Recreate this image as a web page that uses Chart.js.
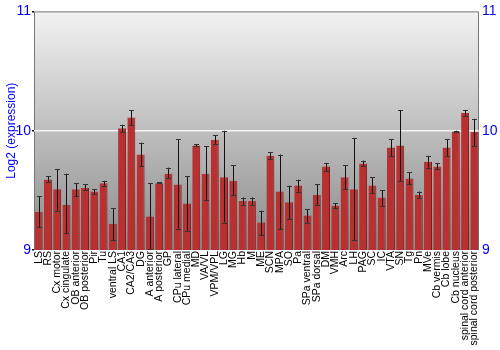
<!DOCTYPE html>
<html>
<head>
<meta charset="utf-8">
<script src="https://cdn.jsdelivr.net/npm/chart.js@4"></script>
<style>
html,body{margin:0;padding:0;background:#fff}
#wrap{width:500px;height:350px}
</style>
</head>
<body>
<div id="wrap"><canvas id="grafico"></canvas></div>
<script>
let regioes = ["LS","RS","Cx motor","Cx cingulate","OB anterior","OB posterior","Pir","Tu","ventral LS","CA1","CA2/CA3","DG","A anterior","A posterior","GP","CPu lateral","CPu medial","MD","VA/VL","VPM/VPL","LG","MG","Hb","M","ME","SCN","MPA","SO","Pa","SPa ventral","SPa dorsal","DM","VMH","Arc","LH","PAG","SC","IC","VTA","SN","Tg","Pn","MVe","Cb vermis","Cb lobe","Cb nucleus","spinal cord anterior","spinal cord posterior"]

let expressao = [9.32,9.59,9.51,9.38,9.51,9.52,9.49,9.56,9.22,10.02,10.11,9.80,9.28,9.56,9.64,9.55,9.39,9.875,9.64,9.925,9.61,9.58,9.41,9.41,9.23,9.79,9.49,9.40,9.54,9.29,9.46,9.70,9.37,9.61,9.51,9.725,9.54,9.44,9.86,9.875,9.60,9.46,9.74,9.70,9.86,9.994,10.15,9.99]

let erroAlto = [9.45,9.62,9.68,9.64,9.56,9.55,9.51,9.58,9.35,10.05,10.17,9.90,9.56,9.57,9.69,9.93,9.62,9.886,9.87,9.96,10.0,9.71,9.44,9.44,9.33,9.82,9.80,9.54,9.59,9.34,9.55,9.73,9.39,9.71,9.94,9.75,9.61,9.50,9.93,10.17,9.65,9.49,9.79,9.73,9.93,10.0,10.175,10.10]

let erroBaixo = [9.19,9.57,9.33,9.14,9.45,9.50,9.47,9.54,9.08,9.99,10.05,9.70,9.01,9.56,9.60,9.18,9.16,9.87,9.42,9.89,9.23,9.46,9.38,9.38,9.125,9.76,9.175,9.26,9.49,9.23,9.38,9.66,9.35,9.51,9.08,9.70,9.48,9.37,9.79,9.58,9.55,9.44,9.69,9.68,9.79,9.99,10.125,9.87]

let ticksY = [9,10,11]

let fundo = {
id:"fundo",
beforeDraw(chart){
let a = chart.chartArea
let c = chart.ctx
let g = c.createLinearGradient(0,a.top,0,a.bottom)
g.addColorStop(0,"#f2f2f2")
g.addColorStop(1,"#8a8a8a")
c.save()
c.fillStyle = g
c.fillRect(a.left,a.top,a.right-a.left,a.bottom-a.top)
c.strokeStyle = "#777"
c.lineWidth = 1
c.beginPath()
c.moveTo(a.left+0.5,a.bottom)
c.lineTo(a.left+0.5,a.top+0.5)
c.lineTo(a.right-0.5,a.top+0.5)
c.lineTo(a.right-0.5,a.bottom)
c.stroke()
c.restore()
}
}

let barrasErro = {
id:"barrasErro",
afterDatasetsDraw(chart){
let c = chart.ctx
let y = chart.scales.y
let meta = chart.getDatasetMeta(0)
c.save()
c.lineWidth = 1
meta.data.forEach((bar,i)=>{
let x = Math.round(bar.x)+0.5
let yt = y.getPixelForValue(erroAlto[i])
let yb = y.getPixelForValue(erroBaixo[i])
c.strokeStyle = "#111"
c.beginPath()
c.moveTo(x,yt)
c.lineTo(x,yb)
c.stroke()
c.strokeStyle = "#333"
c.beginPath()
c.moveTo(x-2.5,Math.round(yt)+0.5)
c.lineTo(x+2.5,Math.round(yt)+0.5)
c.moveTo(x-2.5,Math.round(yb)+0.5)
c.lineTo(x+2.5,Math.round(yb)+0.5)
c.stroke()
})
c.restore()
}
}

let grafico = new Chart(document.getElementById("grafico"),{
type:"bar",
data:{
labels:regioes,
datasets:[{
data:expressao,
backgroundColor:"#b83030",
borderColor:"#7c1c1c",
borderWidth:{left:0,right:1,top:0,bottom:0},
borderSkipped:false,
barPercentage:0.86,
categoryPercentage:1
}]
},
options:{
responsive:true,
maintainAspectRatio:false,
animation:false,
layout:{padding:{top:10,left:0,right:0,bottom:0}},
plugins:{legend:{display:false},tooltip:{enabled:false}},
scales:{
x:{
grid:{display:false,drawTicks:false},
border:{display:false},
ticks:{color:"#000",font:{family:"Liberation Sans",size:10.5},minRotation:90,maxRotation:90,autoSkip:false,padding:1},
afterFit(s){s.height = 100}
},
y:{
position:"left",
min:9,max:11,
afterBuildTicks(s){s.ticks = ticksY.map(v=>({value:v}))},
grid:{color:c=>c.tick.value===10?"#f4f4f4":"rgba(0,0,0,0)",lineWidth:1.5,drawTicks:true,tickLength:2,tickColor:"#000"},
border:{display:false},
ticks:{color:"#0000ff",font:{family:"Liberation Sans",size:14},padding:1},
title:{display:true,text:"Log2 (expression)",color:"#0000ff",font:{family:"Liberation Sans",size:12},padding:{top:4,bottom:0}},
afterFit(s){s.width = 34}
},
y2:{
position:"right",
min:9,max:11,
afterBuildTicks(s){s.ticks = ticksY.map(v=>({value:v}))},
grid:{display:false,drawTicks:false},
border:{display:false},
ticks:{color:"#0000ff",font:{family:"Liberation Sans",size:14},padding:3},
afterFit(s){s.width = 21}
}
}
},
plugins:[fundo,barrasErro]
})
</script>
</body>
</html>
